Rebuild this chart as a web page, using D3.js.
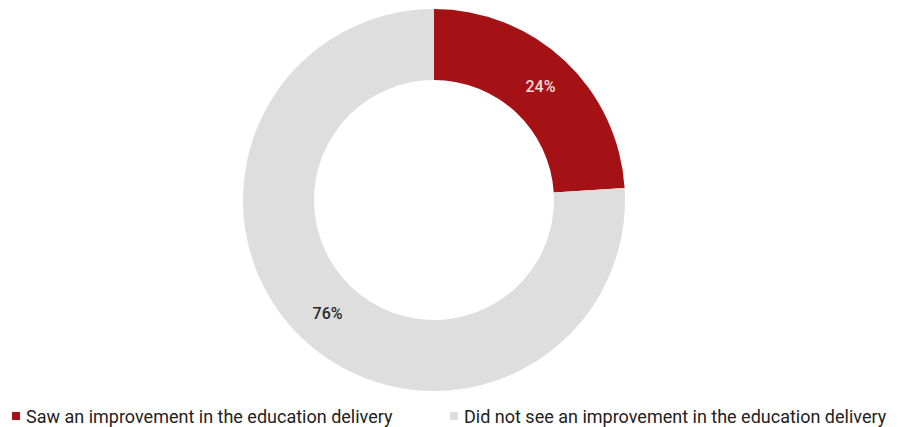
<!DOCTYPE html>
<html>
<head>
<meta charset="utf-8">
<script src="https://cdn.jsdelivr.net/npm/d3@7/dist/d3.min.js"></script>
<style>
  html, body { margin: 0; padding: 0; background: #ffffff; }
  svg { display: block; }
</style>
</head>
<body>
<svg id="chart" width="898" height="427"></svg>
<script>
// Survey responses (percent)
const categories = [
  "Saw an improvement in the education delivery",
  "Did not see an improvement in the education delivery"
];
const values = [24, 76];
const colors = ["#a51216", "#dedede"];
const labelColors = ["#f3dcdc", "#2a2a2a"];

const W = 898, H = 427;
const cx = 434, cy = 200;
const outerR = 191, innerR = 120;

const svg = d3.select("#chart");

const data = categories.map((c, i) => ({ category: c, value: values[i], i }));

const pie = d3.pie().value(d => d.value).sort(null);
const arc = d3.arc().innerRadius(innerR).outerRadius(outerR);
const labelArc = d3.arc().innerRadius((innerR + outerR) / 2).outerRadius((innerR + outerR) / 2);

const g = svg.append("g").attr("transform", `translate(${cx},${cy})`);
const arcs = pie(data);

g.selectAll("path.slice")
  .data(arcs)
  .join("path")
  .attr("class", "slice")
  .attr("d", arc)
  .attr("fill", d => colors[d.data.i]);

g.selectAll("text.pct")
  .data(arcs)
  .join("text")
  .attr("class", "pct")
  .attr("transform", d => `translate(${labelArc.centroid(d)})`)
  .attr("text-anchor", "middle")
  .attr("dominant-baseline", "central")
  .attr("font-family", "Roboto, 'Noto Sans', sans-serif")
  .attr("font-size", 16)
  .attr("font-weight", 500)
  .attr("fill", d => labelColors[d.data.i])
  .text(d => d.data.value + "%");

// Legend along the bottom
const legendX = [12, 450];
const legend = svg.selectAll("g.legend")
  .data(data)
  .join("g")
  .attr("class", "legend")
  .attr("transform", (d, i) => `translate(${legendX[i]},416)`);

legend.append("rect")
  .attr("x", 0).attr("y", -4)
  .attr("width", 8).attr("height", 8)
  .attr("fill", d => colors[d.i]);

legend.append("text")
  .attr("x", 14)
  .attr("y", 0)
  .attr("dominant-baseline", "central")
  .attr("font-family", "Roboto, 'Noto Sans', sans-serif")
  .attr("font-size", 18)
  .attr("fill", "#222")
  .text(d => d.category);
</script>
</body>
</html>
